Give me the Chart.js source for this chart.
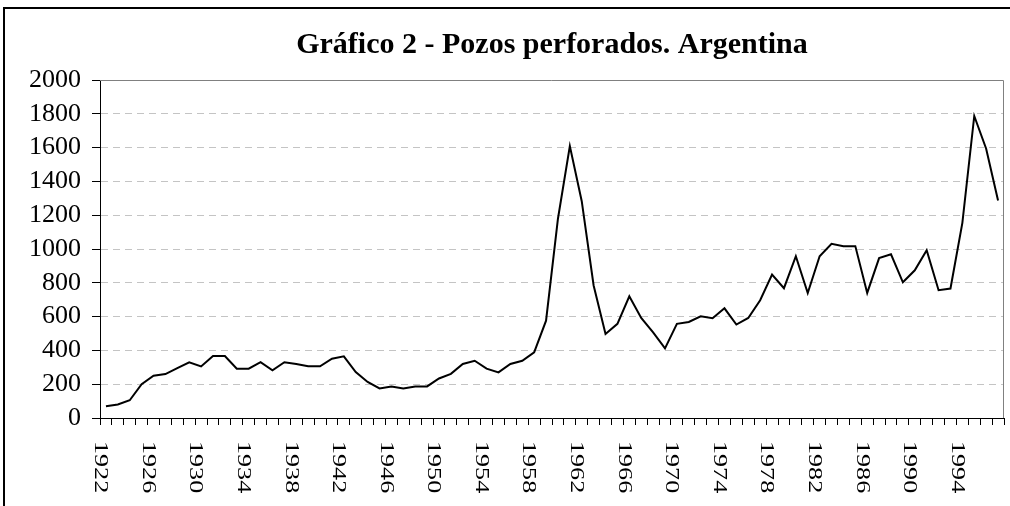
<!DOCTYPE html>
<html>
<head>
<meta charset="utf-8">
<script src="https://cdn.jsdelivr.net/npm/chart.js@4/dist/chart.umd.min.js"></script>
<style>
  html, body { margin: 0; padding: 0; background: #fff; }
  #wrap { position: relative; width: 1010px; height: 506px; overflow: hidden; }
  #wellsChart { position: absolute; left: 0; top: 0; }
  #frame { position: absolute; left: 3px; top: 7px; width: 1040px; height: 600px; border: 2px solid #000; box-sizing: border-box; pointer-events: none; }
</style>
</head>
<body>
<div id="wrap">
  <canvas id="wellsChart" width="1010" height="506"></canvas>
  <div id="frame"></div>
</div>
<script>
const years = [
  '1922', '1923', '1924', '1925', '1926', '1927', '1928', '1929', '1930', '1931',
  '1932', '1933', '1934', '1935', '1936', '1937', '1938', '1939', '1940', '1941',
  '1942', '1943', '1944', '1945', '1946', '1947', '1948', '1949', '1950', '1951',
  '1952', '1953', '1954', '1955', '1956', '1957', '1958', '1959', '1960', '1961',
  '1962', '1963', '1964', '1965', '1966', '1967', '1968', '1969', '1970', '1971',
  '1972', '1973', '1974', '1975', '1976', '1977', '1978', '1979', '1980', '1981',
  '1982', '1983', '1984', '1985', '1986', '1987', '1988', '1989', '1990', '1991',
  '1992', '1993', '1994', '1995', '1996', '1997'
];

// pozos perforados por año
const wells = [
  70, 80, 105, 200, 250, 260, 295, 330, 305, 367,
  367, 292, 292, 330, 282, 330, 320, 306, 306, 351,
  365, 272, 213, 175, 187, 175, 187, 187, 234, 261,
  320, 339, 292, 270, 320, 339, 389, 576, 1179, 1609,
  1283, 784, 497, 557, 720, 592, 507, 412, 557, 568,
  602, 590, 649, 553, 592, 697, 849, 768, 957, 740,
  957, 1031, 1017, 1017, 740, 946, 969, 803, 874, 993,
  756, 766, 1155, 1787, 1593, 1287
];

const labelYears = ['1922', '1926', '1930', '1934', '1938', '1942', '1946', '1950', '1954',
  '1958', '1962', '1966', '1970', '1974', '1978', '1982', '1986', '1990', '1994'];

const yTicks = [0, 200, 400, 600, 800, 1000, 1200, 1400, 1600, 1800, 2000];

const serif = '"Liberation Serif", "Times New Roman", serif';

// gray border on top and right of the plot area
const plotFrame = {
  id: 'plotFrame',
  beforeDatasetsDraw(chart) {
    const { ctx, chartArea: a } = chart;
    ctx.save();
    ctx.strokeStyle = '#808080';
    ctx.lineWidth = 1;
    ctx.beginPath();
    ctx.moveTo(a.left, a.top + 0.5);
    ctx.lineTo(a.right - 0.5, a.top + 0.5);
    ctx.lineTo(a.right - 0.5, a.bottom);
    ctx.stroke();
    ctx.restore();
  }
};

// year labels, turned clockwise, sitting on the category boundaries
const yearLabels = {
  id: 'yearLabels',
  afterDraw(chart) {
    const { ctx, scales: { x } } = chart;
    const step = x.getPixelForValue(1) - x.getPixelForValue(0);
    ctx.save();
    ctx.font = '18px ' + serif;
    ctx.fillStyle = '#000';
    ctx.textAlign = 'left';
    ctx.textBaseline = 'middle';
    labelYears.forEach(yr => {
      const px = x.getPixelForValue(years.indexOf(yr)) - step / 2;
      ctx.save();
      ctx.translate(px, x.top + 23);
      ctx.rotate(Math.PI / 2);
      ctx.scale(1.45, 1);
      ctx.fillText(yr, 0, 0);
      ctx.restore();
    });
    ctx.restore();
  }
};

const ctx = document.getElementById('wellsChart').getContext('2d');
new Chart(ctx, {
  type: 'line',
  data: {
    labels: years,
    datasets: [{
      data: wells,
      borderColor: '#000',
      borderWidth: 2,
      pointRadius: 0,
      tension: 0,
      fill: false
    }]
  },
  options: {
    responsive: false,
    animation: false,
    layout: { padding: { left: 0, right: 6, top: 0, bottom: 0 } },
    plugins: {
      legend: { display: false },
      tooltip: { enabled: false },
      title: {
        display: true,
        fullSize: false,
        text: 'Gráfico 2 - Pozos perforados. Argentina',
        color: '#000',
        font: { family: serif, size: 30, weight: 'bold' },
        padding: { top: 27, bottom: 17 }
      }
    },
    scales: {
      x: {
        offset: true,
        grid: { offset: true, drawOnChartArea: false, tickLength: 7, color: '#000', lineWidth: 1 },
        border: { color: '#000', width: 1 },
        ticks: { display: false, autoSkip: false },
        afterFit: s => { s.height = 88; }
      },
      y: {
        min: 0,
        max: 2000,
        afterBuildTicks: s => { s.ticks = yTicks.map(v => ({ value: v })); },
        ticks: {
          autoSkip: false,
          padding: 11,
          color: '#000',
          font: { family: serif, size: 26 },
          callback: v => String(v)
        },
        grid: {
          color: c => (c.tick.value === 0 || c.tick.value === 2000) ? 'rgba(0,0,0,0)' : '#c4c4c4',
          tickColor: '#000',
          tickLength: 8,
          tickWidth: 1
        },
        border: { color: '#000', width: 1, dash: [7, 5] },
        afterFit: s => { s.width = 100; }
      }
    }
  },
  plugins: [plotFrame, yearLabels]
});
</script>
</body>
</html>
